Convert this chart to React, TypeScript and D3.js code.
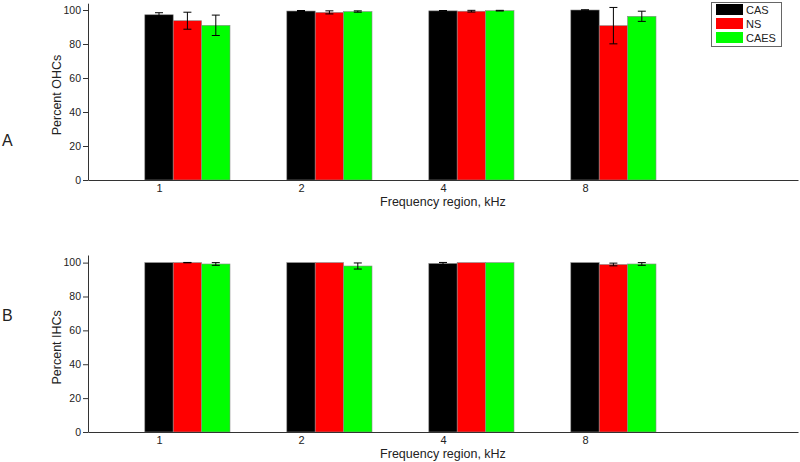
import React, { useEffect, useRef } from "react";
import * as d3 from "d3";

const regions = ["1", "2", "4", "8"];
const groups = ["CAS", "NS", "CAES"];
const colors = ["#000000", "#ff0000", "#00ff00"];

// percent OHCs (panel A)
const ohcMean = [
  [97.2, 93.7, 91.0],
  [99.4, 98.6, 99.1],
  [99.5, 99.3, 99.6],
  [100, 90.8, 96.3],
];
const ohcErr = [
  [1.2, 5.0, 6.0],
  [0.3, 0.9, 0.4],
  [0.2, 0.5, 0.2],
  [0.1, 10.7, 3.0],
];

// percent IHCs (panel B)
const ihcMean = [
  [100, 100, 99.2],
  [100, 100, 98.0],
  [99.5, 100, 100],
  [100, 98.9, 99.2],
];
const ihcErr = [
  [0, 0.1, 0.8],
  [0, 0, 1.8],
  [0.6, 0, 0],
  [0, 0.8, 0.8],
];

const yTicks = [0, 20, 40, 60, 80, 100];

const W = 800;
const H = 462;
const FONT = "Liberation Sans, Arial, sans-serif";

const panels = [
  { letter: "A", ylabel: "Percent OHCs", mean: ohcMean, err: ohcErr, y0: 180, yTop: 3.2, max: 104, letterY: 140 },
  { letter: "B", ylabel: "Percent IHCs", mean: ihcMean, err: ihcErr, y0: 432, yTop: 255, max: 104.5, letterY: 315 },
];

export default function App() {
  const ref = useRef<SVGSVGElement>(null);

  useEffect(() => {
    const svg = d3.select(ref.current);
    svg.selectAll("*").remove();

    const x = d3.scaleLinear().domain([-0.5, 4.5]).range([88, 798]);
    const step = x(1) - x(0);
    const bw = step * 0.2;

    panels.forEach((p) => {
      const y = d3.scaleLinear().domain([0, p.max]).range([p.y0, p.yTop]);
      const g = svg.append("g");

      // bars
      p.mean.forEach((row, i) => {
        row.forEach((v, j) => {
          const cx = x(i) + j * bw;
          g.append("rect")
            .attr("x", cx - bw / 2)
            .attr("y", y(v))
            .attr("width", bw)
            .attr("height", y(0) - y(v))
            .attr("fill", colors[j])
            .attr("stroke", "#8a8a8a")
            .attr("stroke-width", 0.6);
          const e = p.err[i][j];
          if (e > 0) {
            const eg = g.append("g").attr("stroke", "#000").attr("stroke-width", 1);
            eg.append("line").attr("x1", cx).attr("x2", cx).attr("y1", y(v + e)).attr("y2", y(v - e));
            eg.append("line").attr("x1", cx - 4).attr("x2", cx + 4).attr("y1", y(v + e)).attr("y2", y(v + e));
            eg.append("line").attr("x1", cx - 4).attr("x2", cx + 4).attr("y1", y(v - e)).attr("y2", y(v - e));
          }
        });
      });

      // y axis
      const ya = g.append("g")
        .attr("transform", "translate(88,0)")
        .call(d3.axisLeft(y).tickValues(yTicks).tickSize(5).tickPadding(2).tickSizeOuter(0));
      ya.select(".domain").attr("stroke", "#333");
      ya.selectAll(".tick line").attr("stroke", "#333");
      ya.selectAll("text").attr("font-family", FONT).attr("font-size", 10.5).attr("fill", "#222");

      // x axis
      const xa = g.append("g")
        .attr("transform", `translate(0,${p.y0})`)
        .call(
          d3.axisBottom(x)
            .tickValues([0, 1, 2, 3])
            .tickFormat((d) => regions[d as number])
            .tickSize(0)
            .tickPadding(4)
        );
      xa.select(".domain").attr("stroke", "#333");
      xa.selectAll("text").attr("font-family", FONT).attr("font-size", 11).attr("fill", "#222");

      g.append("text")
        .attr("x", (x.range()[0] + x.range()[1]) / 2)
        .attr("y", p.y0 + 26)
        .attr("text-anchor", "middle")
        .attr("font-family", FONT)
        .attr("font-size", 12.5)
        .attr("fill", "#222")
        .text("Frequency region, kHz");

      g.append("text")
        .attr("transform", `translate(61,${(p.y0 + y(100)) / 2}) rotate(-90)`)
        .attr("text-anchor", "middle")
        .attr("font-family", FONT)
        .attr("font-size", 12.5)
        .attr("fill", "#222")
        .text(p.ylabel);

      g.append("text")
        .attr("x", 2)
        .attr("y", p.letterY + 6)
        .attr("font-family", FONT)
        .attr("font-size", 16)
        .attr("fill", "#222")
        .text(p.letter);
    });

    // legend
    const lg = svg.append("g");
    lg.append("rect")
      .attr("x", 711.5).attr("y", 2.5).attr("width", 70).attr("height", 44)
      .attr("fill", "#fff").attr("stroke", "#666").attr("stroke-width", 1);
    groups.forEach((name, j) => {
      const yy = 4 + j * 14;
      lg.append("rect").attr("x", 716).attr("y", yy).attr("width", 27).attr("height", 11).attr("fill", colors[j]);
      lg.append("text")
        .attr("x", 746).attr("y", yy + 9.5)
        .attr("font-family", FONT).attr("font-size", 11).attr("fill", "#222")
        .text(name);
    });
  }, []);

  return (
    <svg
      ref={ref}
      width={W}
      height={H}
      style={{ position: "absolute", left: 0, top: 0, background: "#fff" }}
    />
  );
}
